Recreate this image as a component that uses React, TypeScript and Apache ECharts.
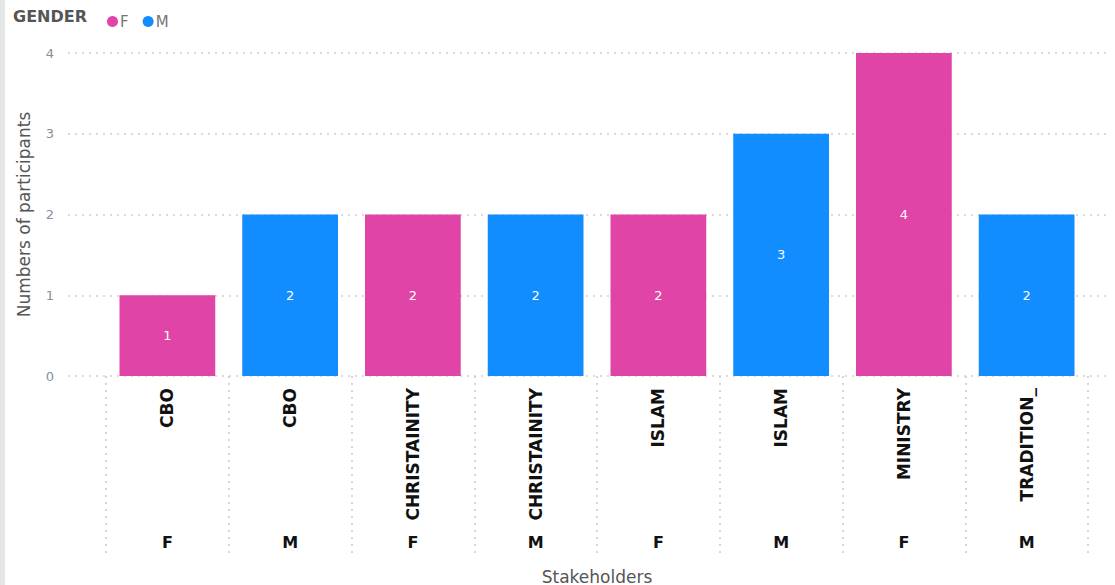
import React, { useEffect, useRef } from "react";
import * as echarts from "echarts";

const stakeholders = ["CBO", "CBO", "CHRISTAINITY", "CHRISTAINITY", "ISLAM", "ISLAM", "MINISTRY", "TRADITION_"];
const genders = ["F", "M", "F", "M", "F", "M", "F", "M"];
const femaleValues: (number | string)[] = [1, "-", 2, "-", 2, "-", 4, "-"];
const maleValues: (number | string)[] = ["-", 2, "-", 2, "-", 3, "-", 2];
const yTicks = [0, 1, 2, 3, 4];

const FONT = "'DejaVu Sans', sans-serif";
const PINK = "#E044A7";
const BLUE = "#118DFF";

export default function App() {
  const ref = useRef<HTMLDivElement>(null);
  useEffect(() => {
    const chart = echarts.init(ref.current!, undefined, { renderer: "svg" });
    const grid = { top: 53, bottom: 209, outerBoundsMode: "none", containLabel: false };
    chart.setOption({
      animation: false,
      backgroundColor: "#fff",
      graphic: [
        { type: "rect", shape: { x: 0, y: 0, width: 5, height: 585 }, style: { fill: "#e6e6e6" } },
        {
          type: "text", left: 13, top: 8,
          style: { text: "GENDER", font: `bold 16px ${FONT}`, fill: "#555" },
        },
      ],
      legend: {
        left: 102, top: 9, itemWidth: 11, itemHeight: 11, itemGap: 14,
        icon: "circle",
        textStyle: { fontFamily: FONT, fontSize: 15, color: "#777", padding: [0, 0, 0, -3] },
        data: ["F", "M"],
      },
      grid: [
        { left: 68, right: 5, ...grid },
        { left: 106, right: 27, ...grid },
      ],
      xAxis: [
        { gridIndex: 0, type: "value", show: false, min: 0, max: 1 },
        {
          gridIndex: 1, type: "category", data: stakeholders,
          axisLine: { show: false },
          axisTick: { show: true, length: 178, lineStyle: { color: "#c8c8c8", type: [2, 5], width: 1.5 } },
          axisLabel: { rotate: 90, margin: 12, fontFamily: FONT, fontSize: 17, fontWeight: "bold", color: "#111", interval: 0 },
        },
        {
          gridIndex: 1, type: "category", data: genders, position: "bottom",
          axisLine: { show: false }, axisTick: { show: false },
          axisLabel: { margin: 158, fontFamily: FONT, fontSize: 16, fontWeight: "bold", color: "#111", interval: 0 },
          name: "Stakeholders", nameLocation: "middle", nameGap: 192,
          nameTextStyle: { fontFamily: FONT, fontSize: 17, color: "#555" },
        },
      ],
      yAxis: [
        {
          gridIndex: 0, type: "value", min: yTicks[0], max: yTicks[yTicks.length - 1], interval: 1,
          axisLine: { show: false }, axisTick: { show: false },
          axisLabel: { margin: 14, fontFamily: FONT, fontSize: 13, color: "#8a8f98" },
          splitLine: { lineStyle: { color: "#cfcfcf", type: [2, 5], width: 1.5 } },
          name: "Numbers of participants", nameLocation: "middle", nameGap: 36,
          nameTextStyle: { fontFamily: FONT, fontSize: 17, color: "#555" },
        },
        { gridIndex: 1, type: "value", min: 0, max: 4, interval: 1, show: false, splitLine: { show: false } },
      ],
      series: [
        {
          name: "F", type: "bar", xAxisIndex: 1, yAxisIndex: 1, stack: "g",
          data: femaleValues, barCategoryGap: "22%",
          itemStyle: { color: PINK },
          label: { show: true, position: "inside", color: "#fff", fontFamily: FONT, fontSize: 13 },
        },
        {
          name: "M", type: "bar", xAxisIndex: 1, yAxisIndex: 1, stack: "g",
          data: maleValues, barCategoryGap: "22%",
          itemStyle: { color: BLUE },
          label: { show: true, position: "inside", color: "#fff", fontFamily: FONT, fontSize: 13 },
        },
      ],
    });
    return () => chart.dispose();
  }, []);
  return <div ref={ref} style={{ position: "fixed", left: 0, top: 0, width: 1115, height: 585 }} />;
}
